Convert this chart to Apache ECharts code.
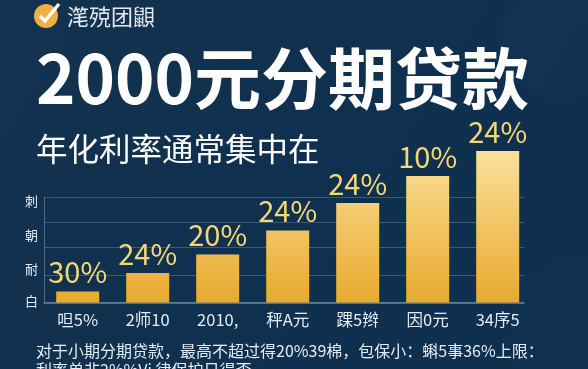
<!DOCTYPE html>
<html><head><meta charset="utf-8">
<style>html,body{margin:0;padding:0;background:#11304f}#c{width:588px;height:369px}</style>
<script src="https://cdn.jsdelivr.net/npm/echarts@6/dist/echarts.min.js"></script>
</head><body><div id="c"></div>
<script>
const categories = ['呾5%','2师10','2010,','秤A元','踝5辫','因0元','34序5'];
const barValues = [11, 29.5, 48, 72, 99.5, 126.5, 151.5];
const barLabels = ['30%','24%','20%','24%','24%','10%','24%'];
const gridValues = [0, 27, 55.5, 80.5, 105.5];
const yLabelValues = [1.5, 33.5, 67.5, 101.5];
const yLabelTexts = ['白','耐','朝','刺'];
const brand = '滗殑团鼰';
const title = '2000元分期贷款';
const subtitle = '年化利率通常集中在';
const note1 = '对于小期分期贷款，最高不超过得20%39棉，包保小：蝌5事36%上限：';
const note2 = '利率单非2%%Vi 律保护日得否';

const F = '"Noto Sans CJK SC","Noto Sans",sans-serif';
const chart = echarts.init(document.getElementById('c'), null, {renderer:'canvas'});
const text = (x,y,t,size,weight,fill) => ({type:'text',x,y,style:{text:t,fontFamily:F,fontSize:size,fontWeight:weight,fill,textVerticalAlign:'middle',textBaseline:'middle'}});
chart.setOption({
  animation:false,
  backgroundColor:{type:'linear',x:0,y:0,x2:1,y2:1,colorStops:[{offset:0,color:'#12324f'},{offset:.5,color:'#10304f'},{offset:1,color:'#0f2f4e'}]},
  grid:[
    {left:44,top:197,width:480,height:105.5},
    {left:42.7,top:140,width:490,height:162.5}
  ],
  xAxis:[
    {type:'value',gridIndex:0,min:0,max:1,axisLabel:{show:false},splitLine:{show:false},axisTick:{show:false},
     axisLine:{show:true,onZero:false,lineStyle:{color:'#6f8499',width:1.5}}},
    {type:'category',gridIndex:1,data:categories,axisLine:{show:false},axisTick:{show:false},
     axisLabel:{color:'#e6ecf2',fontFamily:F,fontSize:16.5,margin:9}}
  ],
  yAxis:[
    {type:'value',gridIndex:0,min:0,max:105.5,
     axisLine:{show:true,lineStyle:{color:'#4f6a84',width:1}},
     axisTick:{show:false,customValues:gridValues},
     splitLine:{show:true,lineStyle:{color:'#3a5a75',width:1}},
     axisLabel:{color:'#e6ecf2',fontFamily:F,fontSize:13,margin:6,customValues:yLabelValues,
       formatter:v=>yLabelTexts[yLabelValues.indexOf(v)]||''}},
    {type:'value',gridIndex:1,min:0,max:162.5,show:false}
  ],
  series:[{
    type:'bar',xAxisIndex:1,yAxisIndex:1,barWidth:43,data:barValues,
    itemStyle:{color:{type:'linear',global:true,x:0,y:151,x2:0,y2:302.5,colorStops:[{offset:0,color:'#fbe09a'},{offset:1,color:'#e8aa2e'}]}},
    label:{show:true,position:'top',distance:5,color:'#f6d778',fontFamily:F,fontSize:29,
      formatter:p=>barLabels[p.dataIndex]}
  }],
  graphic:[
    {type:'circle',z:-1,silent:true,shape:{cx:585,cy:330,r:75},style:{fill:'rgba(255,255,255,0.012)'}},
    {type:'circle',z:-1,silent:true,shape:{cx:560,cy:40,r:60},style:{fill:'rgba(255,255,255,0.010)'}},
    {type:'circle',shape:{cx:46,cy:16,r:12},style:{fill:'#eeb040'}},
    {type:'polyline',shape:{points:[[40,16],[45,21],[59,4]]},style:{stroke:'#fff',lineWidth:3.5,fill:'none'}},
    text(67,17,brand,22,'normal','#e4eaf0'),
    text(36,79,title,67,'bold','#ffffff'),
    text(36,149,subtitle,31.5,'normal','#ffffff'),
    text(36,351,note1,16,'normal','#e6ecf2'),
    text(36,370,note2,16,'normal','#e6ecf2')
  ]
});
</script></body></html>
